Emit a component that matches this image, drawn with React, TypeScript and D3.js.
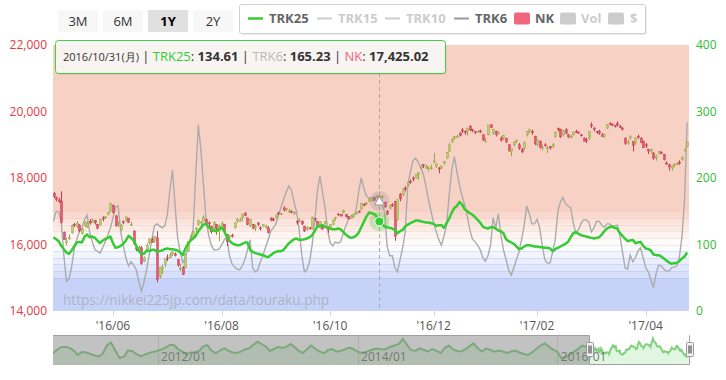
import React from "react";
import * as d3 from "d3";

// ---------- DATA ----------
const START_DATE = "2016-04-25";
const END_DATE = "2017-04-25";
const HOLIDAYS = [
  "2016-04-29", "2016-05-03", "2016-05-04", "2016-05-05", "2016-07-18", "2016-08-11",
  "2016-09-19", "2016-09-22", "2016-10-10", "2016-11-03", "2016-11-23", "2016-12-23",
  "2017-01-02", "2017-01-03", "2017-01-09", "2017-03-20",
];

const NK_OPEN = [
  17540, 17420, 17340, 17300, 16360, 16050, 16180, 16350, 16600, 16540,
  16590, 16330, 16560, 16530, 16700, 16660, 16720, 16600, 16580, 16800,
  16800, 16900, 17000, 17180, 16860, 16600, 16450, 16700, 16730, 16780,
  16570, 16400, 15900, 15850, 15900, 15500, 15850, 16050, 16150, 16100,
  16200, 15030, 15250, 15400, 15600, 15600, 15700, 15720, 15550, 15250,
  15300, 15300, 15800, 16230, 16250, 16450, 16600, 16650, 16700, 16750,
  16650, 16550, 16460, 16600, 16400, 16590, 16600, 16300, 16200, 16280,
  16500, 16700, 16700, 16800, 16950, 16800, 16550, 16600, 16500, 16650,
  16500, 16550, 16500, 16500, 16800, 16750, 16800, 16950, 16900, 17100,
  17050, 17000, 17000, 16920, 16700, 16720, 16700, 16550, 16450, 16500,
  16480, 16780, 16700, 16500, 16550, 16620, 16500, 16500, 16600, 16800,
  16920, 16900, 16950, 16900, 16850, 16800, 16850, 16920, 17000, 17050,
  17200, 17220, 17290, 17330, 17400, 17400, 17460, 17440, 17270, 17000,
  17100, 17200, 17290, 16750, 17500, 17500, 17700, 17800, 17900, 18000,
  18000, 18100, 18300, 18400, 18300, 18300, 18300, 18480, 18350, 18300,
  18300, 18450, 18600, 18800, 19100, 19200, 19250, 19350, 19450, 19400,
  19400, 19550, 19450, 19400, 19400, 19420, 19300, 19100, 19300, 19600,
  19350, 19400, 19350, 19200, 19200, 19200, 19000, 18800, 19000, 19100,
  19000, 18850, 18900, 19300, 19400, 19400, 19250, 19000, 19100, 18900,
  19000, 18900, 18950, 18950, 19250, 19500, 19470, 19300, 19450, 19300,
  19250, 19300, 19400, 19380, 19300, 19200, 19150, 19200, 19600, 19500,
  19400, 19400, 19300, 19250, 19500, 19650, 19620, 19580, 19650, 19550,
  19500, 19200, 19050, 19200, 19100, 19050, 19250, 19200, 19100, 19000,
  18850, 18800, 18750, 18600, 18750, 18780, 18700, 18450, 18400, 18300,
  18400, 18400, 18480, 18550, 18800, 18950,
];
const NK_HIGH = [
  17580, 17440, 17400, 17600, 16390, 16200, 16300, 16600, 16650, 16700,
  16610, 16500, 16700, 16700, 16760, 16780, 16740, 16620, 16780, 16850,
  16860, 16980, 17250, 17200, 16880, 16700, 16620, 16720, 16840, 16800,
  16680, 16430, 16000, 15960, 15950, 15640, 16030, 16200, 16200, 16250,
  16400, 15320, 15390, 15570, 15700, 15750, 15800, 15760, 15560, 15420,
  15350, 15720, 16100, 16300, 16400, 16520, 16750, 16700, 16880, 16770,
  16700, 16560, 16700, 16620, 16600, 16700, 16620, 16300, 16290, 16320,
  16660, 16800, 16800, 16920, 16960, 16800, 16770, 16620, 16600, 16670,
  16550, 16610, 16600, 16550, 16810, 16800, 16900, 16980, 16950, 17150,
  17100, 17070, 17030, 17000, 16730, 16790, 16720, 16560, 16550, 16530,
  16840, 16800, 16710, 16700, 16580, 16710, 16550, 16610, 16760, 16830,
  16930, 16920, 17050, 16920, 16860, 16900, 16920, 16980, 17030, 17250,
  17250, 17280, 17390, 17400, 17420, 17460, 17490, 17480, 17290, 17040,
  17180, 17240, 17300, 17360, 17550, 17700, 17750, 17900, 17950, 18050,
  18120, 18170, 18400, 18420, 18400, 18350, 18400, 18750, 18440, 18330,
  18380, 18500, 18780, 19050, 19200, 19260, 19300, 19370, 19500, 19430,
  19510, 19590, 19480, 19410, 19430, 19450, 19310, 19200, 19600, 19615,
  19480, 19420, 19400, 19250, 19300, 19200, 19020, 18900, 19100, 19150,
  19050, 18900, 19100, 19410, 19480, 19450, 19270, 19170, 19130, 19000,
  19050, 18950, 18960, 19050, 19400, 19510, 19480, 19450, 19500, 19320,
  19300, 19400, 19450, 19400, 19320, 19220, 19200, 19400, 19670, 19530,
  19420, 19450, 19350, 19330, 19620, 19670, 19640, 19600, 19700, 19600,
  19530, 19220, 19150, 19280, 19100, 19220, 19300, 19220, 19120, 19050,
  18870, 18880, 18780, 18700, 18810, 18800, 18720, 18500, 18420, 18380,
  18450, 18470, 18530, 18650, 18900, 19100,
];
const NK_LOW = [
  17400, 17300, 17250, 16630, 16140, 15975, 16130, 16330, 16530, 16490,
  16370, 16300, 16520, 16500, 16600, 16640, 16600, 16450, 16570, 16700,
  16770, 16880, 16980, 16930, 16540, 16530, 16410, 16610, 16700, 16650,
  16560, 16000, 15800, 15760, 15390, 15470, 15840, 16000, 16050, 16050,
  14864, 14980, 15120, 15320, 15500, 15580, 15650, 15640, 15330, 15200,
  15080, 15280, 15780, 16120, 16190, 16350, 16560, 16550, 16690, 16600,
  16540, 16330, 16400, 16300, 16100, 16560, 16370, 15950, 16130, 16210,
  16480, 16650, 16700, 16700, 16850, 16580, 16530, 16460, 16400, 16550,
  16420, 16530, 16480, 16330, 16700, 16700, 16780, 16880, 16880, 17000,
  17000, 16950, 16940, 16900, 16600, 16680, 16590, 16380, 16410, 16450,
  16450, 16700, 16530, 16480, 16450, 16600, 16350, 16480, 16590, 16720,
  16850, 16840, 16940, 16820, 16770, 16780, 16830, 16890, 16960, 17040,
  17150, 17200, 17280, 17300, 17300, 17360, 17420, 17370, 17100, 16900,
  17050, 17130, 16111, 16700, 17300, 17450, 17600, 17750, 17830, 17900,
  17980, 17950, 18260, 18300, 18280, 18200, 18250, 18450, 18300, 18140,
  18280, 18400, 18580, 18780, 19050, 19150, 19200, 19250, 19350, 19300,
  19280, 19420, 19380, 19320, 19380, 19350, 19120, 19100, 19280, 19500,
  19300, 19250, 19300, 19100, 19150, 19050, 18800, 18650, 18950, 19050,
  18850, 18750, 18850, 19250, 19350, 19300, 18990, 18950, 18890, 18830,
  18950, 18750, 18850, 18900, 19200, 19400, 19200, 19250, 19320, 19200,
  19200, 19280, 19350, 19330, 19250, 19100, 19050, 19150, 19500, 19400,
  19330, 19300, 19230, 19200, 19480, 19580, 19560, 19520, 19550, 19500,
  19430, 19000, 19000, 19150, 18800, 19000, 19180, 19050, 18900, 18900,
  18720, 18750, 18550, 18520, 18700, 18720, 18530, 18400, 18220, 18220,
  18330, 18380, 18400, 18520, 18780, 18930,
];
const NK_CLOSE = [
  17440, 17353, 17290, 16666, 16147, 16106, 16216, 16565, 16579, 16646,
  16412, 16466, 16652, 16644, 16646, 16736, 16654, 16498, 16757, 16772,
  16834, 16955, 17234, 16955, 16562, 16642, 16580, 16675, 16830, 16668,
  16601, 16019, 15859, 15919, 15434, 15599, 15965, 16169, 16065, 16238,
  14952, 15309, 15323, 15566, 15575, 15682, 15775, 15669, 15378, 15276,
  15106, 15708, 16095, 16231, 16385, 16497, 16723, 16681, 16810, 16627,
  16620, 16383, 16664, 16476, 16569, 16635, 16391, 16083, 16254, 16254,
  16650, 16764, 16735, 16919, 16869, 16596, 16745, 16486, 16545, 16598,
  16497, 16597, 16556, 16360, 16737, 16725, 16887, 16926, 16925, 17037,
  17081, 17012, 16958, 16965, 16672, 16729, 16614, 16405, 16519, 16492,
  16807, 16754, 16544, 16683, 16465, 16693, 16449, 16598, 16735, 16819,
  16899, 16860, 17024, 16840, 16774, 16856, 16900, 16963, 16998, 17235,
  17184, 17234, 17365, 17391, 17336, 17446, 17425.02, 17442, 17134, 16905,
  17177, 17171, 16251, 17344, 17374, 17672, 17668, 17862, 17862, 17967,
  18106, 18162, 18333, 18381, 18356, 18307, 18308, 18513, 18426, 18274,
  18360, 18496, 18765, 18996, 19155, 19250, 19253, 19273, 19401, 19391,
  19494, 19444, 19427, 19396, 19403, 19401, 19145, 19114, 19594, 19520,
  19454, 19301, 19364, 19134, 19287, 19095, 18813, 18894, 19072, 19137,
  18891, 18787, 19057, 19402, 19467, 19368, 19041, 19148, 18914, 18918,
  18976, 18910, 18907, 19007, 19378, 19459, 19238, 19437, 19347, 19234,
  19251, 19381, 19379, 19371, 19283, 19107, 19118, 19393, 19564, 19469,
  19379, 19344, 19254, 19318, 19604, 19633, 19609, 19577, 19590, 19521,
  19455, 19041, 19085, 19262, 18985, 19202, 19217, 19063, 18909, 18983,
  18810, 18861, 18597, 18664, 18797, 18747, 18552, 18426, 18335, 18355,
  18418, 18432, 18430, 18620, 18875, 19079,
];

const TRK25 = [
  111, 108, 105, 98, 93, 88, 86, 91, 97, 103,
  104, 103, 112, 115, 111, 112, 110, 106, 102, 106,
  108, 110, 112, 102, 95, 96, 98, 101, 106, 113,
  110, 106, 98, 90, 86, 86, 91, 90, 92, 92,
  89, 90, 91, 93, 94, 93, 93, 92, 91, 88,
  84, 94, 101, 106, 109, 113, 120, 125, 130, 131,
  126, 122, 121, 120, 123, 126, 120, 112, 106, 102,
  100, 99, 99, 101, 103, 103, 92, 89, 87, 86,
  85, 84, 82, 81, 84, 87, 89, 90, 90, 92,
  97, 102, 105, 108, 109, 107, 107, 108, 109, 111,
  114, 120, 127, 128, 129, 127, 125, 124, 123, 123,
  124, 123, 119, 115, 112, 110, 111, 113, 118, 126,
  134, 142, 148, 147, 146, 142, 134.61, 131, 127, 126,
  125, 124, 122, 117, 120, 122, 127, 130, 132, 134,
  136, 136, 135, 134, 133, 133, 132, 131, 128, 129,
  129, 125, 132, 139, 148, 155, 158, 164, 160, 153,
  150, 147, 145, 141, 137, 133, 127, 125, 124, 126,
  126, 124, 121, 120, 117, 108, 105, 103, 101, 97,
  93, 94, 97, 99, 99, 98, 97, 97, 96, 96,
  95, 95, 94, 90, 93, 95, 97, 99, 101, 104,
  111, 117, 119, 116, 114, 113, 112, 111, 110, 109,
  110, 111, 115, 120, 124, 126, 127, 125, 124, 117,
  113, 109, 105, 106, 107, 102, 103, 104, 98, 94,
  93, 91, 85, 84, 84, 82, 79, 76, 73, 71,
  72, 72, 75, 79, 82, 88,
];

const TRK6 = [
  135, 150, 149, 134, 84, 45, 48, 66, 93, 108,
  119, 125, 137, 144, 119, 104, 92, 90, 87, 95,
  104, 114, 125, 140, 156, 158, 119, 98, 80, 68,
  74, 69, 62, 44, 30, 44, 62, 84, 107, 128,
  131, 128, 125, 128, 144, 182, 212, 159, 110, 89,
  72, 81, 96, 111, 122, 205, 280, 242, 189, 137,
  114, 99, 92, 92, 93, 99, 107, 111, 84, 71,
  66, 63, 62, 68, 77, 92, 107, 65, 59, 62,
  74, 84, 96, 107, 120, 125, 131, 144, 156, 168,
  179, 188, 182, 164, 149, 122, 84, 59, 62, 74,
  99, 134, 179, 203, 179, 155, 122, 102, 98, 104,
  102, 104, 116, 128, 137, 140, 141, 152, 179, 200,
  185, 173, 170, 170, 171, 174, 165.23, 161, 149, 98,
  83, 83, 65, 59, 77, 95, 119, 189, 209, 226,
  230, 224, 215, 206, 188, 167, 150, 132, 119, 107,
  99, 113, 129, 174, 212, 232, 209, 189, 173, 159,
  143, 122, 108, 104, 99, 92, 80, 75, 83, 99,
  140, 125, 146, 114, 92, 77, 62, 54, 65, 77,
  89, 107, 129, 158, 146, 131, 131, 138, 125, 98,
  77, 72, 72, 89, 107, 149, 164, 171, 161, 158,
  155, 132, 117, 122, 132, 137, 137, 134, 119, 125,
  135, 135, 129, 126, 131, 131, 128, 128, 129, 114,
  89, 65, 63, 84, 74, 80, 90, 95, 80, 65,
  59, 47, 35, 56, 69, 68, 63, 60, 60, 65,
  66, 68, 81, 111, 167, 284,
];

// TRK25 history for the navigator, half-monthly from 2010-12-15 to 2016-04-15
const NAV_HISTORY = [
  89, 110, 122, 122, 116, 103, 80, 96, 93, 85,
  77, 72, 88, 132, 144, 101, 64, 72, 103, 101,
  85, 72, 82, 90, 96, 101, 109, 119, 132, 132,
  111, 97, 82, 93, 93, 101, 124, 132, 103, 90,
  103, 114, 103, 93, 90, 97, 109, 115, 132, 149,
  137, 122, 101, 111, 122, 116, 122, 137, 122, 101,
  90, 111, 129, 111, 98, 89, 106, 111, 98, 101,
  109, 119, 111, 97, 90, 96, 103, 111, 114, 109,
  111, 123, 129, 137, 163, 132, 106, 101, 114, 106,
  98, 111, 103, 90, 116, 129, 109, 101, 98, 111,
  127, 140, 116, 98, 114, 106, 97, 103, 98, 90,
  98, 103, 93, 85, 80, 93, 111, 129, 140, 124,
  109, 96, 64, 69, 82, 96, 109, 129, 122,
];

const HOVER_INDEX = 126;
const LEFT_TICKS = [14000, 16000, 18000, 20000, 22000];
const RIGHT_TICKS = [0, 100, 200, 300, 400];
const TICK_MONTHS = [5, 7, 9, 11, 1, 3];
const NAV_YEARS = [2012, 2014, 2016];
const BAND_FROM = [150, 140, 130, 120, 110, 100, 90, 80, 70, 60, 50, 0];
const BAND_TO = [400, 150, 140, 130, 120, 110, 100, 90, 80, 70, 60, 50];
const BAND_COLORS = [
  "#f8d1c5", "#f9d9ce", "#fbe2da", "#fcebe5", "#fdf4f1", "#fefbfb",
  "#fbfcfe", "#f3f5fe", "#eaeefd", "#e1e7fc", "#d8dffb", "#c7d2f8",
];
const RANGE_BUTTONS = ["3M", "6M", "1Y", "2Y"];
const SELECTED_BUTTON = "1Y";

// ---------- helpers ----------
function tradingDays(): Date[] {
  const out: Date[] = [];
  const hol = new Set(HOLIDAYS);
  let t = Date.parse(START_DATE + "T00:00:00Z");
  const end = Date.parse(END_DATE + "T00:00:00Z");
  while (t <= end) {
    const d = new Date(t);
    const wd = d.getUTCDay();
    const s = d.toISOString().slice(0, 10);
    if (wd !== 0 && wd !== 6 && !hol.has(s)) out.push(d);
    t += 86400000;
  }
  return out;
}

function navHistoryDate(k: number): Date {
  const j = Math.floor(k / 2);
  return k % 2 === 0 ? new Date(Date.UTC(2010, 11 + j, 15)) : new Date(Date.UTC(2010, 12 + j, 1));
}

const FONT = "'Open Sans', 'Noto Sans', Arial, sans-serif";
const fmt2 = d3.format(",.2f");

export default function App() {
  const dates = tradingDays();
  const n = NK_CLOSE.length;
  const PL = 53, PR = 689, PT = 45, PB = 311;

  const x = d3.scaleLinear().domain([0, n - 1]).range([53.5, 687.1]);
  const yNK = d3.scaleLinear().domain([14000, 22000]).range([PB, PT]);
  const yT = d3.scaleLinear().domain([0, 400]).range([PB, PT]);

  const lineT = d3.line<number>().x((_, i) => x(i)).y((v) => yT(v));

  // x ticks at first trading day of selected months
  const ticks: { i: number; label: string }[] = [];
  for (let i = 0; i < Math.min(n, dates.length); i++) {
    const m = dates[i].getUTCMonth();
    if (!TICK_MONTHS.includes(m)) continue;
    if (i > 0 && dates[i - 1].getUTCMonth() === m) continue;
    if (i === 0) continue;
    const yy = String(dates[i].getUTCFullYear()).slice(2);
    const mm = String(m + 1).padStart(2, "0");
    ticks.push({ i, label: `'${yy}/${mm}` });
  }

  // navigator
  const NT = 335, NB = 365;
  const xN = d3.scaleUtc()
    .domain([new Date(Date.UTC(2010, 11, 15)), new Date(Date.UTC(2017, 3, 26))])
    .range([PL, PR]);
  const yN = d3.scaleLinear().domain([27.6, 184]).range([NB, NT]);
  const navPts: [Date, number][] = [];
  NAV_HISTORY.forEach((v, k) => navPts.push([navHistoryDate(k), v]));
  TRK25.forEach((v, i) => { if (dates[i]) navPts.push([dates[i], v]); });
  const navLine = d3.line<[Date, number]>().x((d) => xN(d[0])).y((d) => yN(d[1]));
  const navArea = d3.area<[Date, number]>().x((d) => xN(d[0])).y0(NB).y1((d) => yN(d[1]));
  const selL = Math.round(xN(dates[0])) + 0.5;
  const selR = Math.round(xN(dates[Math.min(n, dates.length) - 1])) + 0.5;

  const hx = x(HOVER_INDEX);
  const hd = dates[HOVER_INDEX];
  const wd = ["日", "月", "火", "水", "木", "金", "土"][hd.getUTCDay()];
  const hdLabel = `${hd.getUTCFullYear()}/${String(hd.getUTCMonth() + 1).padStart(2, "0")}/${String(hd.getUTCDate()).padStart(2, "0")}(${wd})`;

  const upFill = "#c0cc72", upStroke = "#97a646";
  const dnFill = "#e65a6f", dnStroke = "#c63c55";

  return (
    <svg width={726} height={380} style={{ position: "absolute", left: 0, top: 0, background: "#fff" }} fontFamily={FONT}>
      <defs>
        <clipPath id="plot"><rect x={PL} y={PT} width={PR - PL} height={PB - PT} /></clipPath>
        <clipPath id="nav"><rect x={PL} y={NT} width={PR - PL} height={NB - NT} /></clipPath>
      </defs>

      {/* plot bands */}
      {BAND_FROM.map((f, i) => (
        <rect key={"b" + i} x={PL} y={yT(BAND_TO[i])} width={PR - PL} height={yT(f) - yT(BAND_TO[i])} fill={BAND_COLORS[i]} />
      ))}
      {BAND_FROM.slice(0, -1).map((f, i) => (
        <line key={"bl" + i} x1={PL} x2={PR} y1={Math.round(yT(f)) + 0.5} y2={Math.round(yT(f)) + 0.5}
          stroke={f >= 100 ? "rgba(220,140,120,0.18)" : "rgba(110,130,220,0.18)"} />
      ))}

      {/* watermark */}
      <text x={63} y={305} fontSize={13.6} fill="#9a9a9a" opacity={0.55}>https://nikkei225jp.com/data/touraku.php</text>

      <g clipPath="url(#plot)">
        {/* TRK6 */}
        <path d={lineT(TRK6) || ""} fill="none" stroke="#ababab" strokeWidth={1.4} />
        {/* candles */}
        {NK_CLOSE.map((c, i) => {
          const o = NK_OPEN[i];
          const up = c >= o;
          const cx = Math.round(x(i));
          const y1 = yNK(Math.max(o, c));
          const y2 = yNK(Math.min(o, c));
          return (
            <g key={"c" + i}>
              <line x1={cx + 0.5} x2={cx + 0.5} y1={yNK(NK_HIGH[i])} y2={yNK(NK_LOW[i])} stroke={up ? upStroke : dnStroke} strokeWidth={1} />
              <rect x={cx - 0.5} y={y1} width={2} height={Math.max(1, y2 - y1)} fill={up ? upFill : dnFill} stroke={up ? upStroke : dnStroke} strokeWidth={0.5} />
            </g>
          );
        })}
        {/* TRK25 */}
        <path d={lineT(TRK25) || ""} fill="none" stroke="#33cc33" strokeWidth={2.5} strokeLinejoin="round" />
      </g>

      {/* crosshair & markers */}
      <line x1={Math.round(hx) + 0.5} x2={Math.round(hx) + 0.5} y1={PT} y2={PB} stroke="#aaa" strokeDasharray="4,3" />
      <circle cx={hx} cy={yT(TRK6[HOVER_INDEX])} r={10} fill="#8a8a8a" opacity={0.25} />
      <path d={d3.symbol(d3.symbolTriangle, 40)() || ""} transform={`translate(${hx},${yT(TRK6[HOVER_INDEX]) + 1})`} fill="#fff" stroke="#999" strokeWidth={1} />
      <circle cx={hx} cy={yT(TRK25[HOVER_INDEX])} r={10} fill="#33cc33" opacity={0.25} />
      <circle cx={hx} cy={yT(TRK25[HOVER_INDEX])} r={4.5} fill="#33cc33" stroke="#fff" strokeWidth={1} />

      {/* x axis */}
      {ticks.map((t) => (
        <g key={t.label}>
          <line x1={Math.round(x(t.i)) + 0.5} x2={Math.round(x(t.i)) + 0.5} y1={PB} y2={PB + 5} stroke="#ccd6eb" />
          <text x={x(t.i)} y={330} textAnchor="middle" fontSize={12} fill="#555">{t.label}</text>
        </g>
      ))}

      {/* y axes */}
      {LEFT_TICKS.map((v) => (
        <text key={"l" + v} x={47} y={yNK(v) + 4} textAnchor="end" fontSize={12} fill="#e8383f">{d3.format(",")(v)}</text>
      ))}
      {RIGHT_TICKS.map((v) => (
        <text key={"r" + v} x={696} y={yT(v) + 4} textAnchor="start" fontSize={12} fill="#33bb33">{v}</text>
      ))}

      {/* navigator */}
      <g clipPath="url(#nav)">
        {NAV_YEARS.map((yr) => {
          const gx = Math.round(xN(new Date(Date.UTC(yr, 0, 1)))) + 0.5;
          return <line key={"ng" + yr} x1={gx} x2={gx} y1={NT} y2={NB} stroke="#e2e2e2" />;
        })}
        <path d={navArea(navPts) || ""} fill="rgba(60,200,60,0.16)" />
        <path d={navLine(navPts) || ""} fill="none" stroke="#80d080" strokeWidth={2} />
        <rect x={PL} y={NT} width={selL - PL} height={NB - NT} fill="rgba(120,120,120,0.45)" />
        {NAV_YEARS.map((yr) => {
          const gx = xN(new Date(Date.UTC(yr, 0, 1)));
          return <text key={"nl" + yr} x={gx + 3.5} y={361} fontSize={12} fill="#777">{`${yr}/01`}</text>;
        })}
      </g>
      <path d={`M${PL},${NT + 0.5}H${selL}V${NB - 0.5}H${selR}V${NT + 0.5}H${PR}`} fill="none" stroke="#a0a0a0" strokeWidth={1} />
      {[selL, selR].map((hxv, k) => (
        <g key={"h" + k} transform={`translate(${Math.round(hxv - 4) + 0.5},${342.5})`}>
          <rect x={0} y={0} width={7} height={14} rx={1} fill="#f2f2f2" stroke="#999" />
          <line x1={2.5} x2={2.5} y1={3} y2={11} stroke="#333" />
          <line x1={4.5} x2={4.5} y1={3} y2={11} stroke="#333" />
        </g>
      ))}

      {/* range buttons */}
      {RANGE_BUTTONS.map((b, i) => {
        const bx = 58 + i * 45;
        const sel = b === SELECTED_BUTTON;
        return (
          <g key={b}>
            <rect x={bx} y={10} width={40} height={22} fill={sel ? "#e0e0e0" : "#f7f7f7"} />
            <text x={bx + 20} y={26} textAnchor="middle" fontSize={13} fill={sel ? "#000" : "#333"} fontWeight={sel ? "bold" : "normal"}>{b}</text>
          </g>
        );
      })}

      {/* legend */}
      <rect x={241} y={6} width={406} height={29} fill="rgba(0,0,0,0.08)" rx={2} />
      <rect x={239.5} y={4.5} width={406} height={29} fill="#fff" stroke="#d0d0d0" rx={2} />
      <g fontSize={13} fontWeight="bold">
        <line x1={248} x2={263} y1={18.5} y2={18.5} stroke="#33cc33" strokeWidth={2.5} />
        <text x={269} y={23} fill="#666">TRK25</text>
        <line x1={317} x2={332} y1={18.5} y2={18.5} stroke="#cccccc" strokeWidth={2} />
        <text x={338} y={23} fill="#cccccc">TRK15</text>
        <line x1={385} x2={400} y1={18.5} y2={18.5} stroke="#cccccc" strokeWidth={2} />
        <text x={406} y={23} fill="#cccccc">TRK10</text>
        <line x1={454} x2={469} y1={18.5} y2={18.5} stroke="#999" strokeWidth={2} />
        <text x={475} y={23} fill="#666">TRK6</text>
        <rect x={514} y={12.5} width={16} height={12} rx={2} fill="#f2667b" />
        <text x={535} y={23} fill="#666">NK</text>
        <rect x={560} y={12.5} width={16} height={12} rx={2} fill="#cccccc" />
        <text x={581} y={23} fill="#cccccc">Vol</text>
        <rect x={608} y={12.5} width={16} height={12} rx={2} fill="#cccccc" />
        <text x={630} y={23} fill="#cccccc">$</text>
      </g>

      {/* tooltip */}
      <rect x={56.5} y={42} width={390} height={33} rx={3} fill="rgba(0,0,0,0.07)" />
      <rect x={55.5} y={40.5} width={390} height={33} rx={3} fill="rgba(248,247,246,0.93)" stroke="#44cc44" strokeWidth={1} />
      <text x={63} y={61} fill="#333" style={{ whiteSpace: "pre" }}>
        <tspan fontSize={11}>{hdLabel}</tspan>
        <tspan fontSize={13}>{" | "}</tspan>
        <tspan fontSize={13} fill="#33cc33">TRK25</tspan>
        <tspan fontSize={13}>{": "}</tspan>
        <tspan fontSize={13} fontWeight="bold">{TRK25[HOVER_INDEX].toFixed(2)}</tspan>
        <tspan fontSize={13}>{" | "}</tspan>
        <tspan fontSize={13} fill="#bbbbbb">TRK6</tspan>
        <tspan fontSize={13}>{": "}</tspan>
        <tspan fontSize={13} fontWeight="bold">{TRK6[HOVER_INDEX].toFixed(2)}</tspan>
        <tspan fontSize={13}>{" | "}</tspan>
        <tspan fontSize={13} fill="#f2667b">NK</tspan>
        <tspan fontSize={13}>{": "}</tspan>
        <tspan fontSize={13} fontWeight="bold">{fmt2(NK_CLOSE[HOVER_INDEX])}</tspan>
      </text>
    </svg>
  );
}
